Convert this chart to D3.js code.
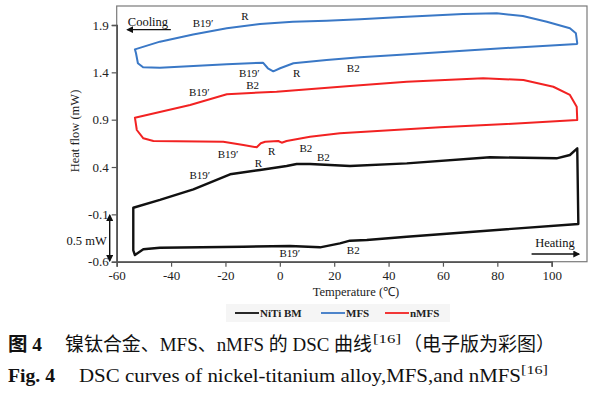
<!DOCTYPE html>
<html>
<head>
<meta charset="utf-8">
<script src="https://cdn.jsdelivr.net/npm/d3@7"></script>
<style>
  html, body { margin: 0; padding: 0; background: #fff; }
  svg { display: block; }
</style>
</head>
<body>
<div id="chart"></div>
<script>
/* ── Data ───────────────────────────────────────────────────────── */
// each loop: cooling trace left->right, then heating trace right->left

const mfsT  = [-53.3, -44.1, -31.9, -19.5, -7.3, 4.8, 17.2, 29.5, 43.0, 67.4, 79.8, 89.4, 98.2, 106.7, 108.9, 109.4,
               109.3, 92.0, 67.4, 43.0, 29.5, 17.2, 5.0, 0.1, -2.4, -4.4, -6.2, -19.5, -31.8, -44.1, -50.3, -52.2, -52.9];
const mfsHF = [1.643, 1.724, 1.800, 1.865, 1.911, 1.935, 1.945, 1.960, 1.981, 2.016, 2.024, 1.995, 1.935, 1.865, 1.812, 1.707,
               1.699, 1.671, 1.629, 1.583, 1.559, 1.530, 1.496, 1.443, 1.411, 1.443, 1.502, 1.485, 1.467, 1.449, 1.453, 1.496, 1.601];

const nmfsT  = [-53.3, -33.0, -19.5, -1.2, 25.8, 46.7, 74.8, 89.6, 100.6, 106.7, 109.2, 109.4,
                83.4, 58.9, 22.1, 11.1, 2.5, 0.7, -0.6, -5.4, -7.0, -8.5, -13.4, -20.8, -46.5, -50.2, -52.6];
const nmfsHF = [0.921, 1.055, 1.168, 1.196, 1.256, 1.301, 1.337, 1.319, 1.248, 1.161, 1.037, 0.897,
                0.854, 0.820, 0.756, 0.720, 0.675, 0.657, 0.675, 0.667, 0.651, 0.608, 0.633, 0.667, 0.675, 0.703, 0.791];

const nitiT  = [-53.9, -44.1, -31.8, -18.3, -7.3, 2.5, 6.2, 11.1, 25.8, 46.7, 77.3, 101.8, 106.7, 109.4,
                109.8, 71.2, 46.7, 32.0, 25.8, 22.1, 14.8, 3.7, -13.4, -44.1, -50.2, -53.3, -53.9];
const nitiHF = [-0.030, 0.052, 0.165, 0.323, 0.369, 0.411, 0.432, 0.432, 0.411, 0.439, 0.503, 0.492, 0.527, 0.598,
                -0.202, -0.283, -0.336, -0.371, -0.378, -0.406, -0.448, -0.434, -0.442, -0.452, -0.469, -0.529, -0.480];

const seriesNames  = ['NiTi BM', 'MFS', 'nMFS'];
const seriesColors = ['#111111', '#3a78c6', '#f22222'];

const xTicks = [-60, -40, -20, 0, 20, 40, 60, 80, 100];
const yTicks = [1.9, 1.4, 0.9, 0.4, -0.1, -0.6];

// phase annotations: [text, T, HF]
const phaseLabels = [
  ['B19\u2032', -28.2, 1.918], ['R', -12.8, 2.000], ['B19\u2032', -11.2, 1.396], ['R', 6.2, 1.396], ['B2', 27.0, 1.443],
  ['B19\u2032', -29.6, 1.196], ['B2', -10.0, 1.266], ['B19\u2032', -19.0, 0.538], ['R', -3.0, 0.572], ['B2', 9.6, 0.598], ['B2', 16.0, 0.503],
  ['R', -7.9, 0.446], ['B19\u2032', -29.4, 0.316], ['B19\u2032', 3.7, -0.505], ['B2', 27.0, -0.476]
];

/* ── Layout ─────────────────────────────────────────────────────── */

const W = 599, H = 397;
const SERIF = '"Liberation Serif", "Times New Roman", serif';
const CJK = '"Liberation Serif", "Noto Sans CJK SC", serif';

const svg = d3.select('#chart').append('svg')
  .attr('width', W).attr('height', H);

const x = d3.scaleLinear().domain([-60, 100]).range([116.7, 551.7]);
const y = d3.scaleLinear().domain([-0.6, 1.9]).range([261.7, 25]);
const plotL = x(-60), plotR = 587, plotT = 6, plotB = y(-0.6);

// hyphen instead of unicode minus, like the print
const hyph = function (f) { return function (d) { return f(d).replace('\u2212', '-'); }; };

// frame
svg.append('rect')
  .attr('x', plotL).attr('y', plotT)
  .attr('width', plotR - plotL).attr('height', plotB - plotT)
  .attr('fill', 'none').attr('stroke', '#7a7a7a').attr('stroke-width', 1.2);

// axes
const xAxis = svg.append('g')
  .attr('transform', 'translate(0,' + plotB + ')')
  .call(d3.axisBottom(x).tickValues(xTicks).tickSize(5).tickPadding(4).tickFormat(hyph(d3.format('d'))));
const yAxis = svg.append('g')
  .attr('transform', 'translate(' + plotL + ',0)')
  .call(d3.axisLeft(y).tickValues(yTicks).tickSize(5).tickPadding(3).tickFormat(hyph(d3.format('.1f'))));

[xAxis, yAxis].forEach(function (ax) {
  ax.select('.domain').attr('stroke', '#555').attr('stroke-width', 1.6);
  ax.selectAll('.tick line').attr('stroke', '#555').attr('stroke-width', 1.2);
  ax.selectAll('.tick text')
    .attr('fill', '#222')
    .style('font-family', SERIF)
    .style('font-size', '13px');
});

// axis titles
svg.append('text')
  .attr('transform', 'translate(79,131) rotate(-90)')
  .attr('text-anchor', 'middle')
  .style('font-family', SERIF).style('font-size', '12.5px').attr('fill', '#222')
  .text('Heat flow (mW)');

svg.append('text')
  .attr('x', 356).attr('y', 296)
  .attr('text-anchor', 'middle')
  .style('font-family', SERIF).style('font-size', '12.5px').attr('fill', '#222')
  .text('Temperature (\u2103)');

/* ── Curves ─────────────────────────────────────────────────────── */

const loops = [
  { T: nitiT, HF: nitiHF, color: seriesColors[0], w: 2.4 },
  { T: mfsT, HF: mfsHF, color: seriesColors[1], w: 2 },
  { T: nmfsT, HF: nmfsHF, color: seriesColors[2], w: 2 }
];

const line = d3.line()
  .x(function (d) { return x(d[0]); })
  .y(function (d) { return y(d[1]); })
  .curve(d3.curveLinearClosed);

loops.forEach(function (s) {
  const pts = s.T.map(function (t, i) { return [t, s.HF[i]]; });
  svg.append('path')
    .datum(pts)
    .attr('d', line)
    .attr('fill', 'none')
    .attr('stroke', s.color)
    .attr('stroke-width', s.w)
    .attr('stroke-linejoin', 'round');
});

// phase labels
svg.append('g').selectAll('text')
  .data(phaseLabels)
  .join('text')
  .attr('x', function (d) { return x(d[1]); })
  .attr('y', function (d) { return y(d[2]); })
  .attr('text-anchor', 'middle')
  .attr('dominant-baseline', 'central')
  .style('font-family', SERIF).style('font-size', '11px').attr('fill', '#111')
  .text(function (d) { return d[0]; });

/* ── Arrows: cooling / heating / scale bar ─────────────────────── */

const defs = svg.append('defs');
defs.append('marker')
  .attr('id', 'ah').attr('viewBox', '0 0 10 10')
  .attr('refX', 8).attr('refY', 5)
  .attr('markerWidth', 5).attr('markerHeight', 5)
  .attr('orient', 'auto-start-reverse')
  .append('path').attr('d', 'M0,0 L10,5 L0,10 z').attr('fill', '#111');

function arrow(x1, y1, x2, y2, both) {
  const p = svg.append('line')
    .attr('x1', x1).attr('y1', y1).attr('x2', x2).attr('y2', y2)
    .attr('stroke', '#111').attr('stroke-width', 1.4)
    .attr('marker-end', 'url(#ah)');
  if (both) p.attr('marker-start', 'url(#ah)');
}

arrow(x(-40.1), y(1.851), x(-56), y(1.851));
svg.append('text')
  .attr('x', x(-48.5)).attr('y', y(1.935))
  .attr('text-anchor', 'middle').attr('dominant-baseline', 'central')
  .style('font-family', SERIF).style('font-size', '12.5px').attr('fill', '#111')
  .text('Cooling');

arrow(x(92.6), y(-0.519), x(110), y(-0.519));
svg.append('text')
  .attr('x', x(101.2)).attr('y', y(-0.40))
  .attr('text-anchor', 'middle').attr('dominant-baseline', 'central')
  .style('font-family', SERIF).style('font-size', '12.5px').attr('fill', '#111')
  .text('Heating');

// 0.5 mW scale bar
arrow(plotL - 7, y(-0.1) + 1, plotL - 7, y(-0.6) - 1, true);
svg.append('text')
  .attr('x', plotL - 10).attr('y', y(-0.38))
  .attr('text-anchor', 'end').attr('dominant-baseline', 'central')
  .style('font-family', SERIF).style('font-size', '12.5px').attr('fill', '#111')
  .text('0.5 mW');

/* ── Legend ─────────────────────────────────────────────────────── */

const legendX = [235, 321, 385];
svg.append('rect')
  .attr('x', 226).attr('y', 304).attr('width', 224).attr('height', 18)
  .attr('fill', '#f5f5f5');

const leg = svg.append('g').selectAll('g')
  .data(seriesNames)
  .join('g')
  .attr('transform', function (d, i) { return 'translate(' + legendX[i] + ',313)'; });
leg.append('line')
  .attr('x1', 0).attr('x2', 24)
  .attr('stroke', function (d, i) { return seriesColors[i]; })
  .attr('stroke-width', 1.8);
leg.append('text')
  .attr('x', 25).attr('dominant-baseline', 'central')
  .style('font-family', SERIF).style('font-size', '11px').style('font-weight', 'bold')
  .attr('fill', '#222')
  .text(function (d) { return d; });

/* ── Caption ───────────────────────────────────────────────────── */

function cap(txt, x0, yb, size, opts) {
  opts = opts || {};
  const t = svg.append('text')
    .attr('x', x0).attr('y', yb)
    .style('font-family', CJK).style('font-size', size + 'px')
    .style('font-weight', opts.bold ? 'bold' : 'normal')
    .attr('fill', '#111')
    .text(txt);
  if (opts.len) t.attr('textLength', opts.len).attr('lengthAdjust', 'spacingAndGlyphs');
}

cap('图 4', 8, 351, 19, { bold: true, len: 34 });
cap('镍钛合金、MFS、nMFS 的 DSC 曲线', 65, 351, 19, { len: 307 });
cap('[16]', 373, 343, 12.5, { len: 28 });
cap('（电子版为彩图）', 403, 351, 19, { len: 152 });

cap('Fig. 4', 8, 382, 19, { bold: true, len: 47 });
cap('DSC curves of nickel-titanium alloy,MFS,and nMFS', 79, 382, 19, { len: 442 });
cap('[16]', 521, 374, 12.5, { len: 27 });
</script>
</body>
</html>
